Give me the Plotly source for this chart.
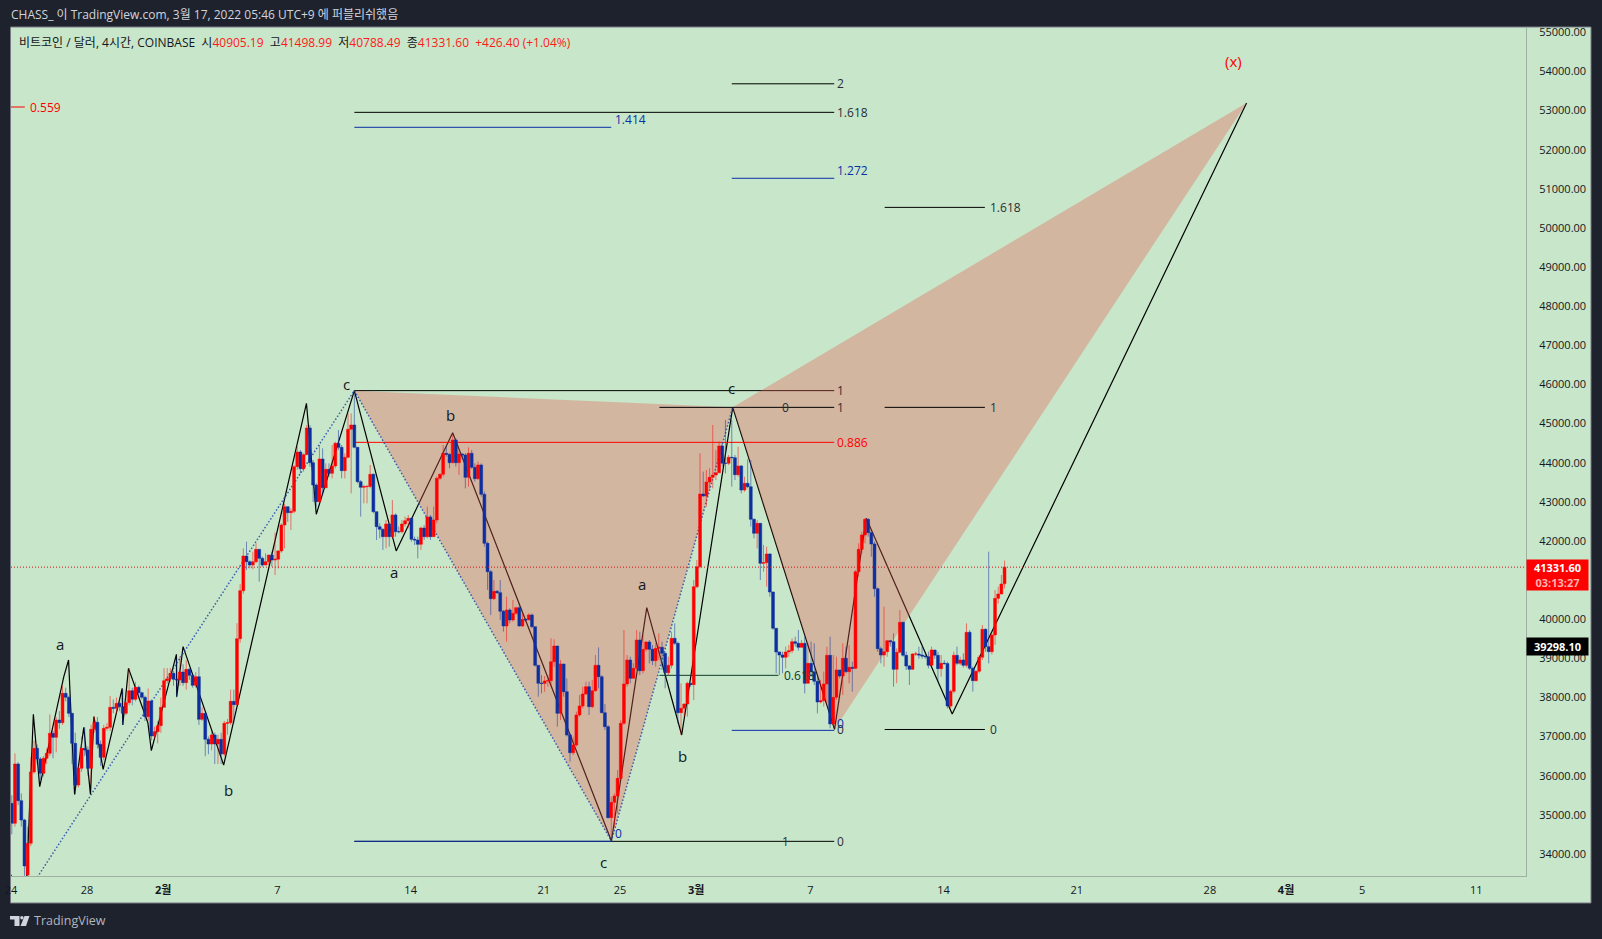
import plotly.graph_objects as go
import pandas as pd

# ---- OHLC values (4h bars) ----
START = pd.Timestamp("2022-01-24 01:00")
closes = [
34783,36300,35363,34868,33693,34272,36095,36700,36427,36061,
36445,36572,37084,36981,37424,37356,38106,38004,37595,36828,
35763,36189,36700,36658,36189,37186,37365,36802,36470,37211,
37237,37748,37723,37850,37765,37595,37867,38174,37953,38259,
38123,38004,37510,37910,37015,37126,37280,37748,38430,38481,
38617,38464,38447,38651,38379,38719,38566,38310,38532,37441,
37595,36930,36811,37041,36811,36930,36555,37339,37356,37901,
37816,39503,40730,41616,41471,41386,41471,41786,41557,41386,
41472,41642,41514,41535,41745,42409,42878,42724,42758,43900,
44275,43849,44207,44889,44002,43432,43006,44096,43363,43832,
43730,43917,44497,44394,43798,44139,44855,44965,44394,43517,
43372,43389,43392,43704,42750,42367,42298,42111,42435,42111,
42665,42239,42236,42435,42520,42580,42043,42026,41915,42332,
42111,42614,42111,42537,43602,43704,44241,44215,44002,44582,
44002,44224,44198,43628,44241,43883,43593,43943,43193,41941,
41216,40526,40714,40680,40203,39828,40237,39981,40151,40296,
39828,39998,39981,40109,39811,38822,38362,38360,38421,38430,
38915,39316,37595,38856,38149,37041,36589,36785,37552,37782,
38089,38276,37765,38174,38822,38532,37612,37254,34928,35320,
35482,35933,37339,38345,38958,38489,38745,39469,38685,39231,
39418,39231,38941,39256,39282,39128,38634,38822,39512,39384,
37612,37723,37833,38362,38327,40832,41344,43201,43150,43508,
43627,43687,43747,44428,43985,43985,44138,44130,43695,43917,
43303,43474,43389,42554,42196,42451,41429,41446,41668,40696,
39768,39163,39086,39026,39163,39197,39427,39384,39282,39384,
38362,38873,38660,38413,37885,37919,38345,39078,37322,38004,
38703,38549,39001,38660,38771,38745,41216,41787,42153,42554,
42213,41923,40781,39248,39086,39171,39452,39427,38720,39154,
39921,39078,38805,38720,39112,39112,39086,39060,39043,38822,
39214,39078,38737,38873,38870,37782,38157,39078,38873,38958,
38822,39665,38745,38430,38668,39026,39742,39299,39171,39597,
40534,40645,40901,41331.6]
opens = [
35294,34783,36300,35363,34868,33460,34272,36095,36700,36427,
36061,36445,36572,37084,36981,37424,37356,38106,38004,37595,
36828,35763,36189,36700,36658,36189,37186,37365,36802,36470,
37211,37237,37748,37723,37850,37765,37595,37867,38174,37953,
38259,38123,38004,37510,37910,37015,37126,37280,37748,38430,
38481,38617,38464,38447,38651,38379,38719,38566,38310,38532,
37441,37595,36930,36811,37041,36811,36930,36555,37339,37356,
37901,37816,39503,40730,41616,41471,41386,41471,41786,41557,
41386,41472,41642,41514,41535,41745,42409,42878,42724,42758,
43900,44275,43849,44207,44889,44002,43432,43006,44096,43363,
43832,43730,43917,44497,44394,43798,44139,44855,44965,44394,
43517,43372,43389,43392,43704,42750,42367,42298,42111,42435,
42111,42665,42239,42236,42435,42520,42580,42043,42026,41915,
42332,42111,42614,42111,42537,43602,43704,44241,44215,44002,
44582,44002,44224,44198,43628,44241,43883,43593,43943,43193,
41941,41216,40526,40714,40680,40203,39828,40237,39981,40151,
40296,39828,39998,39981,40109,39811,38822,38362,38360,38421,
38430,38915,39316,37595,38856,38149,37041,36589,36785,37552,
37782,38089,38276,37765,38174,38822,38532,37612,37254,34928,
35320,35482,35933,37339,38345,38958,38489,38745,39469,38685,
39231,39418,39231,38941,39256,39282,39128,38634,38822,39512,
39384,37612,37723,37833,38362,38327,40832,41344,43201,43150,
43508,43627,43687,43747,44428,43985,43985,44138,44130,43695,
43917,43303,43474,43389,42554,42196,42451,41429,41446,41668,
40696,39768,39163,39086,39026,39163,39197,39427,39384,39282,
39384,38362,38873,38660,38413,37885,37919,38345,39078,37322,
38004,38703,38549,39001,38660,38771,38745,41216,41787,42153,
42554,42213,41923,40781,39248,39086,39171,39452,39427,38720,
39154,39921,39078,38805,38720,39112,39112,39086,39060,39043,
38822,39214,39078,38737,38873,38870,37782,38157,39078,38873,
38958,38822,39665,38745,38430,38668,39026,39742,39299,39171,
39597,40534,40645,40905.19]
highs = [
35500,36570,36350,35550,34900,34700,36480,36900,36800,36480,
36500,36700,37570,37150,37500,37650,38300,38250,38050,37600,
37100,36250,37000,37237,36750,37300,37510,37500,36900,37300,
37350,38038,37950,38000,37950,38200,38150,38745,38250,38400,
38300,38150,38050,38230,37950,37250,37400,38000,38750,38750,
38750,38680,39000,39050,38850,38950,38750,38600,38650,38780,
37750,37600,37000,37150,37100,37050,37100,37400,37450,38200,
38200,39900,40900,41812,41983,41500,41727,41940,41786,41600,
41684,41642,41727,42213,41770,42450,42950,42878,42835,43943,
44411,44326,44241,44965,44965,44070,43474,44454,44369,43985,
43985,44454,44539,44837,44454,44241,45263,45263,45775,44400,
43559,43440,43432,43943,43730,42750,42452,42324,42537,42435,
43048,42707,42367,42537,42622,42665,42580,42111,42111,42367,
42409,42878,42665,42878,43645,43730,44454,44411,44241,44710,
44624,44326,44241,44241,44394,44326,43985,44028,43985,43261,
41983,41259,41003,40748,41003,40237,40577,40279,40492,40322,
40407,40151,40024,40151,40151,39811,38822,38575,38549,38575,
39512,39486,39316,38958,38856,38489,37084,37000,37637,38063,
38276,38404,38404,38447,39086,39282,38575,37833,37296,35464,
35550,36146,37424,39725,39086,39043,38873,39725,39682,39597,
39440,39469,39341,39384,39640,39427,39171,39043,39682,39895,
39427,38362,37850,38404,38362,41003,41514,44241,43772,43815,
43857,44965,44326,44539,44496,45093,44198,45093,44198,44411,
43942,43644,44087,44070,42579,42536,42451,41898,41855,41685,
40705,39768,39171,39171,39299,39342,39512,39555,39725,39469,
39555,39384,39427,39384,38532,38447,38660,39299,39555,39086,
39043,38703,39384,39299,39342,38915,41258,41940,42238,42579,
42579,42281,41983,40815,39299,40321,39470,39470,39640,39256,
40236,39938,39171,38830,39129,39171,39299,39299,39129,39171,
39299,39214,39171,39086,38958,38915,38200,39171,39299,39043,
39129,39895,39725,38788,38703,39086,39853,39768,41727,39650,
40747,40833,41131,41498.99]
lows = [
34500,34700,35250,34700,33440,33400,34200,36050,36300,35900,
35980,36300,36500,36445,36600,37200,37300,37900,37500,36300,
35530,35700,36100,36500,36000,35800,37100,36700,36250,36400,
37150,37150,37600,37600,37650,37300,37550,37800,37800,37900,
38000,37950,37400,37400,36900,36950,36828,37100,37750,38350,
38400,38300,38000,38300,38300,38200,38450,38250,38250,37300,
37400,36500,36550,36650,36300,36300,36300,36500,37050,37300,
37340,37800,39400,40650,41258,41300,41275,41429,40960,41340,
41386,41386,41344,41130,41300,41700,41812,42490,42281,42707,
43815,43730,43773,44198,43900,43000,42878,42963,43176,43346,
43645,43602,43857,44326,43602,43602,44113,43219,44369,43474,
42622,42963,42963,43346,42707,42026,42068,41770,41813,41855,
42068,42111,42196,42196,42367,42324,41983,41898,41557,41770,
42026,42068,42026,42111,42452,43559,43645,44156,43857,43985,
43900,43687,44070,43346,43389,43840,43517,43559,43133,41855,
40748,40109,40492,40646,39981,39683,39427,39896,39938,40109,
39811,39800,39938,39981,39768,38788,38021,38106,38149,38276,
38276,38788,37254,37424,38021,37000,36359,36530,36743,37510,
37723,38063,37552,37723,38149,38234,37595,37169,34911,34400,
34698,35039,35891,37296,38276,38362,38489,38702,38575,38617,
39171,38873,38830,38788,38958,38702,38234,38575,38745,39341,
37339,37041,37510,37510,38276,37936,40790,41300,43133,42877,
43346,43346,43559,43729,43900,43729,43942,43389,43559,43644,
43218,43261,43346,42366,42068,41812,41003,41216,40833,40577,
39725,38617,38575,38617,38745,39043,39129,39299,39200,39299,
38106,38404,38532,38319,37595,37851,37766,37851,37212,37297,
37936,38489,38064,38617,38362,38149,38720,41088,41684,41940,
42111,41599,40577,39171,38873,38788,39043,39299,38276,38362,
39129,39043,38703,38319,38703,39060,38990,38990,38990,38745,
38800,38990,38404,38532,38830,37723,37723,38106,38830,38830,
38770,38770,38703,38149,38404,38617,38958,39171,38873,39100,
39342,40400,40662,40788.49]

# ---- wave drawing: bar number, price ----
wave_bars = [-1.5,4.3,6.8,8.8,16.4,17.9,19.8,22.7,24.8,25.9,28.8,34.8,35,36.8,42.9,44,51.9,52,54,66.8,
             92.9,96,108,121.2,139,189.05,200.2,211.2,227.3,259.4,269.4,296.5,389.3]
wave_prices = [33693,32568,37569,35720,38532,38958,35524,37237,35524,37510,36163,38234,37297,38745,37356,36641,39103,38021,39299,36274,
               45519,42682,45843,41745,44769,34332,40296,37041,45416,37186,42579,37578,53198]

xab_bars = [108,189.05,227.3,108]
xab_prices = [45843,34332,45416,45843]
bcd_bars = [227.3,259.4,389.3,227.3]
bcd_prices = [45416,37186,53198,45416]
dot_bars = [-1,108,189.05,227.3]
dot_prices = [32281,45843,34332,45416]

# ---- fib levels ----
BLACK, BLUE, RED, DGREEN = "#000000", "#0b2fa8", "#ff0000", "#0d3b2e"
level_start = [204.2,108,108,108,227,227,275.2,275.2,275.2,227,108,108,204.2,-3]
level_end   = [259.3,259.3,259.3,189,259.3,259.3,306.8,306.8,306.8,259.3,259.3,189,241.7,4.1]
level_price = [45416,44522,52957,52574,53686,51271,50527,45416,37182,37160,34323,34323,38566,53093]
level_color = [BLACK,RED,BLACK,BLUE,BLACK,BLUE,BLACK,BLACK,BLACK,BLUE,BLACK,BLUE,DGREEN,RED]
TOP_LEVEL_BARS = [108, 259.3]
TOP_LEVEL_PRICE = 45843

DARK = "#2a2e39"
fib_text  = ["1","1","0","0.886","1.618","2","1.272","1.414","1.618","1","0","0","0","0.618","1","0","0","0.559"]
fib_bar   = [259.6,259.6,242.3,259.6,259.6,259.6,259.6,189.6,307.7,307.7,307.7,259.6,259.6,242.8,242.3,259.6,189.6,5]
fib_price = [45843,45416,45416,44522,52957,53686,51470,52780,50527,45416,37182,37339,37169,38566,34323,34323,34527,53093]
fib_color = [DARK,DARK,DARK,RED,DARK,DARK,BLUE,BLUE,DARK,DARK,DARK,BLUE,DARK,DGREEN,DARK,DARK,BLUE,RED]

wave_text  = ["a","b","c","a","b","c","a","b","c","(x)"]
wave_tbar  = [15.3,68.2,105.6,120.4,138.2,186.5,198.8,211.4,226.9,385.2]
wave_tprice= [39356,35648,46016,41210,45230,33795,40897,36510,45912,54270]
wave_tcolor= ["#131722"]*9 + [RED]

tick_dates = ["2022-01-24","2022-01-28","2022-02-01","2022-02-07","2022-02-14","2022-02-21","2022-02-25",
              "2022-03-01","2022-03-07","2022-03-14","2022-03-21","2022-03-28","2022-04-01","2022-04-05","2022-04-11"]
tick_text = ["24","28","<b>2월</b>","7","14","21","25","<b>3월</b>","7","14","21","28","<b>4월</b>","5","11"]

LAST_PRICE, PREV_TAG = 41331.60, 39298.10
X_RANGE = ["2022-01-24 00:00", "2022-04-13 14:37"]
Y_RANGE = [33437, 55138]

def bt(i):
    return START + pd.Timedelta(hours=4 * float(i))

times = [bt(i) for i in range(len(closes))]
highs = [max(h, o, c) for h, o, c in zip(highs, opens, closes)]
lows = [min(l, o, c) for l, o, c in zip(lows, opens, closes)]

BG = "#1e222d"
GREEN = "#c8e6c9"
UP, DOWN = "#ff0000", "#0c2e9e"
GRID = "#9fb0a1"
FONT = "Open Sans, Noto Sans CJK KR, sans-serif"

fig = go.Figure()
fig.add_trace(go.Scatter(x=[bt(i) for i in TOP_LEVEL_BARS], y=[TOP_LEVEL_PRICE] * 2, mode="lines",
                         line=dict(color=BLACK, width=1), hoverinfo="skip"))
fig.add_trace(go.Scatter(x=[bt(i) for i in wave_bars], y=wave_prices, mode="lines",
                         line=dict(color="#000000", width=1.2), hoverinfo="skip"))
for bars, prices in ((xab_bars, xab_prices), (bcd_bars, bcd_prices)):
    fig.add_trace(go.Scatter(x=[bt(i) for i in bars], y=prices, mode="lines", fill="toself",
                             fillcolor="rgba(228,93,84,0.35)", line=dict(width=0), hoverinfo="skip"))
for s, e, p, col in zip(level_start, level_end, level_price, level_color):
    fig.add_trace(go.Scatter(x=[bt(s), bt(e)], y=[p, p], mode="lines",
                             line=dict(color=col, width=1), hoverinfo="skip"))
fig.add_trace(go.Scatter(x=[bt(i) for i in dot_bars], y=dot_prices, mode="lines",
                         line=dict(color="rgba(30,70,170,0.85)", width=1.5, dash="1.5px,2px"), hoverinfo="skip"))

# wicks first, then solid bodies, on an overlaid axis so they sit above the drawing
fig.add_trace(go.Candlestick(x=times, open=opens, high=highs, low=lows, close=closes,
                             xaxis="x2", yaxis="y2",
                             increasing=dict(line=dict(color="rgba(255,0,0,0.5)", width=1), fillcolor="rgba(0,0,0,0)"),
                             decreasing=dict(line=dict(color="rgba(12,46,158,0.5)", width=1), fillcolor="rgba(0,0,0,0)"),
                             whiskerwidth=0, hoverinfo="skip"))
fig.add_trace(go.Candlestick(x=times, open=opens, high=highs, low=lows, close=closes,
                             xaxis="x2", yaxis="y2",
                             increasing=dict(line=dict(color=UP, width=0), fillcolor=UP),
                             decreasing=dict(line=dict(color=DOWN, width=0), fillcolor=DOWN),
                             whiskerwidth=0, hoverinfo="skip"))

PW, PH = 1515, 849
def fx(px): return (px - 11) / PW
def fy(py): return (876 - py) / PH

shapes = [
    dict(type="rect", xref="paper", yref="paper", x0=fx(10.5), x1=fx(1591), y0=fy(903), y1=fy(27),
         fillcolor=GREEN, line=dict(color="#787b86", width=1), layer="below"),
    dict(type="line", xref="paper", yref="y", x0=0, x1=1, y0=LAST_PRICE, y1=LAST_PRICE,
         line=dict(color="#d01010", width=1, dash="1px,2px")),
]
# TradingView logo
def poly(pts):
    return "M " + " L ".join(f"{fx(x)} {fy(y)}" for x, y in pts) + " Z"
logo = [[(10, 916), (19.5, 916), (19.5, 926), (14.5, 926), (14.5, 919.5), (10, 919.5)],
        [(24.5, 916), (29.5, 916), (26, 926), (20.5, 926)]]
for pts in logo:
    shapes.append(dict(type="path", xref="paper", yref="paper", path=poly(pts),
                       fillcolor="#d1d4dc", line=dict(width=0)))
shapes.append(dict(type="circle", xref="paper", yref="paper", x0=fx(20.2), x1=fx(23.6), y0=fy(919.6), y1=fy(916),
                   fillcolor="#d1d4dc", line=dict(width=0)))

ann = []
for t, i, p, c in zip(fib_text, fib_bar, fib_price, fib_color):
    ann.append(dict(x=bt(i), y=p, text=t, xanchor="left", yanchor="middle", showarrow=False,
                    font=dict(size=12, color=c, family=FONT)))
for t, i, p, c in zip(wave_text, wave_tbar, wave_tprice, wave_tcolor):
    ann.append(dict(x=bt(i), y=p, text=t, xanchor="center", yanchor="middle", showarrow=False,
                    font=dict(size=15, color=c, family=FONT)))

NB = "\u00a0"
R = lambda s: f'<span style="color:#ff1a1a">{s}</span>'
legend = (f"비트코인 / 달러, 4시간, COINBASE{NB}{NB}시" + R("40905.19") + f"{NB}{NB}고" + R("41498.99")
          + f"{NB}{NB}저" + R("40788.49") + f"{NB}{NB}종" + R("41331.60") + f"{NB}{NB}" + R("+426.40 (+1.04%)"))
ann.append(dict(xref="paper", yref="paper", x=fx(17), y=fy(42), text=legend, xanchor="left", yanchor="middle",
                showarrow=False, font=dict(size=12, color="#131722", family=FONT)))
ann.append(dict(xref="paper", yref="paper", x=fx(9), y=fy(14.5),
                text="CHASS_ 이 TradingView.com, 3월 17, 2022 05:46 UTC+9 에 퍼블리쉬했음",
                xanchor="left", yanchor="middle", showarrow=False, font=dict(size=12, color="#d1d4dc", family=FONT)))
ann.append(dict(xref="paper", yref="paper", x=fx(32), y=fy(921), text="TradingView", xanchor="left", yanchor="middle",
                showarrow=False, font=dict(size=12.5, color="#b2b5be", family=FONT)))
ann.append(dict(xref="paper", yref="y", x=1, y=LAST_PRICE, yshift=8, xanchor="left", yanchor="top", showarrow=False,
                text=f'<b>{LAST_PRICE:.2f}</b><br><span style="color:#ffb0b0"><b>03:13:27</b></span>',
                width=61, height=30, bgcolor="#ff0000", borderpad=0, align="center",
                font=dict(size=11, color="#ffffff", family=FONT)))
ann.append(dict(xref="paper", yref="y", x=1, y=PREV_TAG, xanchor="left", yanchor="middle", showarrow=False,
                text=f"<b>{PREV_TAG:.2f}</b>", width=61, height=17, bgcolor="#000000", borderpad=0, align="center",
                font=dict(size=11, color="#ffffff", family=FONT)))

fig.update_layout(
    width=1602, height=939, autosize=False,
    margin=dict(l=11, r=76, t=27, b=63, pad=0, autoexpand=False),
    paper_bgcolor=BG, plot_bgcolor=GREEN, showlegend=False, boxgap=0, boxgroupgap=0.1,
    shapes=shapes, annotations=ann,
    xaxis=dict(type="date", range=X_RANGE, tickmode="array", tickvals=tick_dates, ticktext=tick_text,
               showgrid=False, zeroline=False, showline=True, linecolor=GRID, linewidth=1,
               ticks="outside", ticklen=4, tickcolor=GREEN, tickangle=0,
               tickfont=dict(size=11, color="#131722", family=FONT), rangeslider=dict(visible=False)),
    yaxis=dict(range=Y_RANGE, side="right", dtick=1000, tick0=34000, tickformat=".2f", showgrid=False, zeroline=False,
               showline=True, linecolor=GRID, linewidth=1, ticks="outside", ticklen=10, tickcolor=GREEN,
               tickfont=dict(size=11, color="#131722", family=FONT)),
    xaxis2=dict(type="date", range=X_RANGE, overlaying="x", visible=False, rangeslider=dict(visible=False)),
    yaxis2=dict(range=Y_RANGE, overlaying="y", visible=False),
)

fig.write_html("out.html", config=dict(displayModeBar=False),
               post_script="document.body.style.margin='0';document.body.style.overflow='hidden';document.body.style.background='#1e222d';")
